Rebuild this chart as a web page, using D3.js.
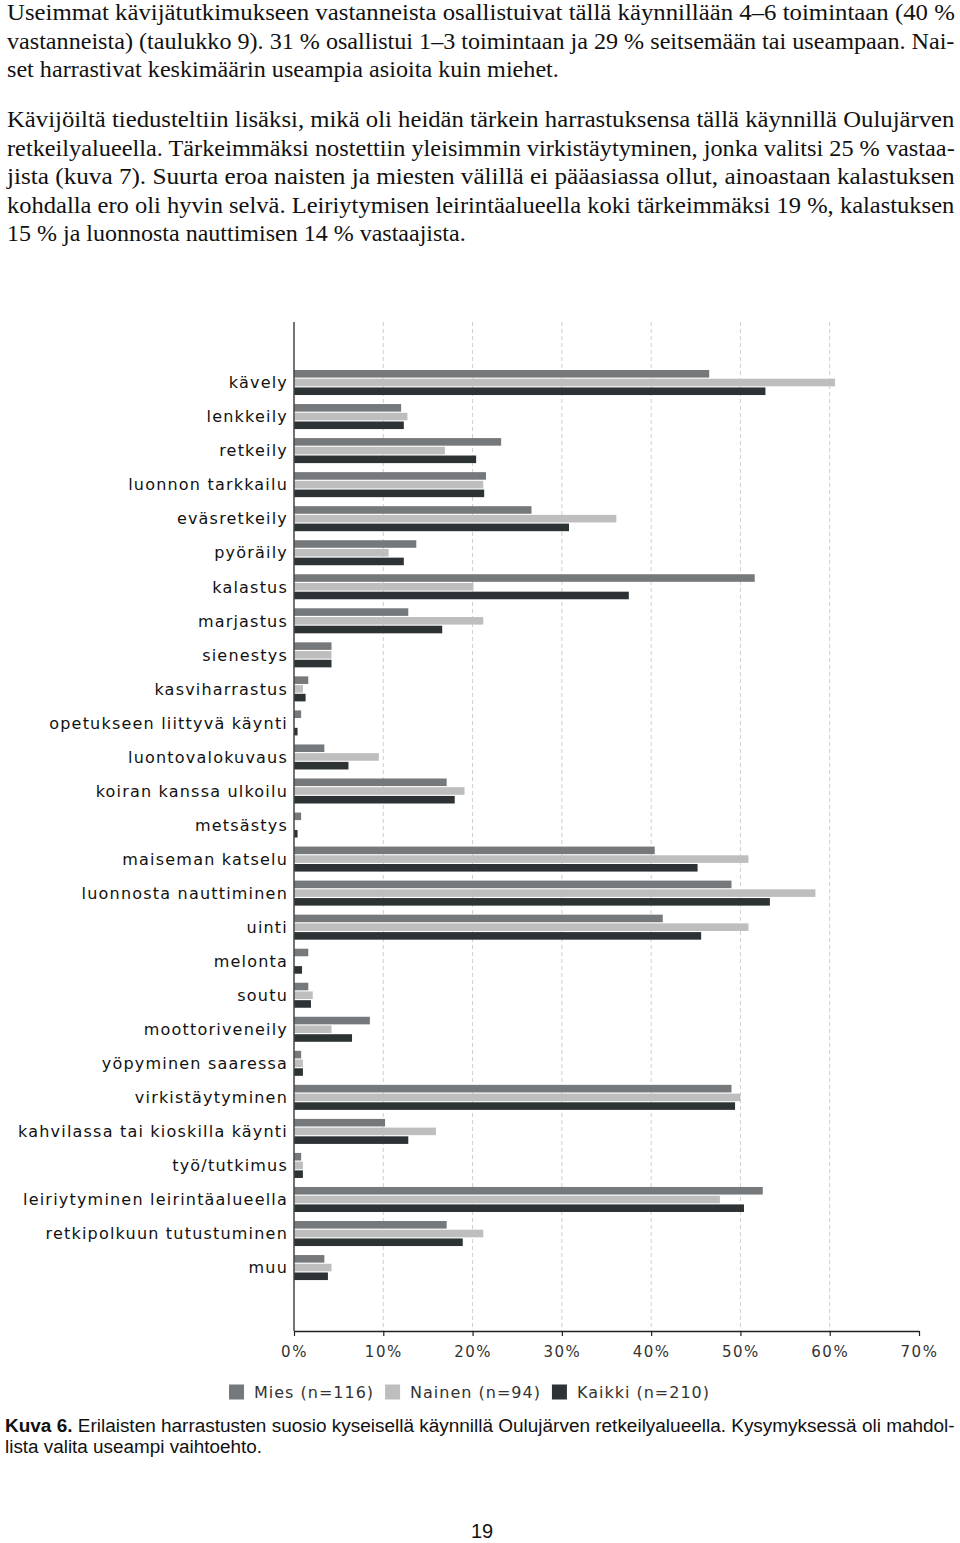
<!DOCTYPE html>
<html>
<head>
<meta charset="utf-8">
<script src="https://cdn.jsdelivr.net/npm/d3@7"></script>
<style>
  html, body { margin: 0; padding: 0; background: #fff; }
  svg { display: block; }
</style>
</head>
<body>
<svg id="chart" width="960" height="1543"></svg>
<script>
// ---------------- DATA ----------------
const categories = [
  "kävely", "lenkkeily", "retkeily", "luonnon tarkkailu", "eväsretkeily",
  "pyöräily", "kalastus", "marjastus", "sienestys", "kasviharrastus",
  "opetukseen liittyvä käynti", "luontovalokuvaus", "koiran kanssa ulkoilu",
  "metsästys", "maiseman katselu", "luonnosta nauttiminen", "uinti", "melonta",
  "soutu", "moottoriveneily", "yöpyminen saaressa", "virkistäytyminen",
  "kahvilassa tai kioskilla käynti", "työ/tutkimus",
  "leiriytyminen leirintäalueella", "retkipolkuun tutustuminen", "muu"
];
const mies   = [46.5, 12.0, 23.2, 21.5, 26.6, 13.7, 51.6, 12.8, 4.2, 1.6, 0.8, 3.4, 17.1, 0.8, 40.4, 49.0, 41.3, 1.6, 1.6, 8.5, 0.8, 49.0, 10.2, 0.8, 52.5, 17.1, 3.4];
const nainen = [60.6, 12.7, 16.9, 21.2, 36.1, 10.6, 20.1, 21.2, 4.2, 1.0, 0.0, 9.5, 19.1, 0.0, 50.9, 58.4, 50.9, 0.0, 2.1, 4.2, 1.0, 50.0, 15.9, 1.0, 47.7, 21.2, 4.2];
const kaikki = [52.8, 12.3, 20.4, 21.3, 30.8, 12.3, 37.5, 16.6, 4.2, 1.3, 0.4, 6.1, 18.0, 0.4, 45.2, 53.3, 45.6, 0.9, 1.9, 6.5, 1.0, 49.4, 12.8, 1.0, 50.4, 18.9, 3.8];
const seriesNames = ["Mies (n=116)", "Nainen (n=94)", "Kaikki (n=210)"];
const xTicks = [0, 10, 20, 30, 40, 50, 60, 70];
const gridTicks = [10, 20, 30, 40, 50, 60];

const paragraph1 = [
  "Useimmat kävijätutkimukseen vastanneista osallistuivat tällä käynnillään 4–6 toimintaan (40 %",
  "vastanneista) (taulukko 9). 31 % osallistui 1–3 toimintaan ja 29 % seitsemään tai useampaan. Nai-",
  "set harrastivat keskimäärin useampia asioita kuin miehet."
];
const paragraph2 = [
  "Kävijöiltä tiedusteltiin lisäksi, mikä oli heidän tärkein harrastuksensa tällä käynnillä Oulujärven",
  "retkeilyalueella. Tärkeimmäksi nostettiin yleisimmin virkistäytyminen, jonka valitsi 25 % vastaa-",
  "jista (kuva 7). Suurta eroa naisten ja miesten välillä ei pääasiassa ollut, ainoastaan kalastuksen",
  "kohdalla ero oli hyvin selvä. Leiriytymisen leirintäalueella koki tärkeimmäksi 19 %, kalastuksen",
  "15 % ja luonnosta nauttimisen 14 % vastaajista."
];
const captionBold = "Kuva 6.";
const captionLines = [
  " Erilaisten harrastusten suosio kyseisellä käynnillä Oulujärven retkeilyalueella. Kysymyksessä oli mahdol-",
  "lista valita useampi vaihtoehto."
];
const pageNumber = "19";

// ---------------- STYLE / LAYOUT ----------------
const colors = ["#76797c", "#bebebe", "#2d3335"];
const svg = d3.select("#chart");
svg.append("rect").attr("width", 960).attr("height", 1543).attr("fill", "#fff");

// prose helper: draw a line and stretch/condense it to a target width
function proseLine(parts, x0, baseline, targetW, family, size) {
  const g = svg.append("g").attr("transform", `translate(${x0},${baseline})`);
  const t = g.append("text")
    .attr("x", 0).attr("y", 0)
    .attr("font-family", family)
    .attr("font-size", size)
    .attr("fill", "#111");
  parts.forEach(p => {
    t.append("tspan").attr("font-weight", p.bold ? "bold" : "normal").text(p.text);
  });
  if (targetW) {
    const w = t.node().getComputedTextLength();
    g.attr("transform", `translate(${x0},${baseline}) scale(${targetW / w},1)`);
  }
}

const serif = "'Liberation Serif', 'Times New Roman', serif";
const p1Base = [20, 49, 77];
const p1W = [948, 948, 552];
paragraph1.forEach((s, i) => proseLine([{ text: s }], 7, p1Base[i], p1W[i], serif, 23));
const p2Base = [127, 156, 184, 213, 241];
const p2W = [948, 948, 948, 948, 459];
paragraph2.forEach((s, i) => proseLine([{ text: s }], 7, p2Base[i], p2W[i], serif, 23));

// ---------------- CHART ----------------
const x = d3.scaleLinear().domain([0, 70]).range([294, 919]);
const plotTop = 322, plotBottom = 1331;

const y = d3.scaleBand()
  .domain(categories)
  .range([365.5, 365.5 + 27 * 34.04])
  .paddingInner(0.265)
  .paddingOuter(0.1325);

const yInner = d3.scaleBand()
  .domain(seriesNames)
  .range([0, y.bandwidth()])
  .paddingInner(0.13);

// gridlines
svg.append("g").selectAll("line")
  .data(gridTicks)
  .join("line")
  .attr("x1", d => x(d)).attr("x2", d => x(d))
  .attr("y1", plotTop).attr("y2", plotBottom)
  .attr("stroke", "#cfcfcf")
  .attr("stroke-width", 1)
  .attr("stroke-dasharray", "4,3");

// bars
const seriesData = [mies, nainen, kaikki];
seriesData.forEach((vals, si) => {
  svg.append("g").selectAll("rect")
    .data(categories.map((c, i) => ({ c, v: vals[i] })))
    .join("rect")
    .attr("x", x(0))
    .attr("y", d => y(d.c) + yInner(seriesNames[si]))
    .attr("width", d => Math.max(0, x(d.v) - x(0)))
    .attr("height", yInner.bandwidth())
    .attr("fill", colors[si]);
});

// y axis line + labels
svg.append("line")
  .attr("x1", x(0)).attr("x2", x(0))
  .attr("y1", plotTop).attr("y2", plotBottom)
  .attr("stroke", "#444").attr("stroke-width", 1.5);

svg.append("g").selectAll("text")
  .data(categories)
  .join("text")
  .attr("x", x(0) - 6)
  .attr("y", d => y(d) + y.bandwidth() / 2)
  .attr("dy", "0.36em")
  .attr("text-anchor", "end")
  .attr("font-family", "'DejaVu Sans', sans-serif")
  .attr("font-size", 16)
  .attr("letter-spacing", "1.2px")
  .attr("fill", "#111")
  .text(d => d);

// x axis
const xAxis = d3.axisBottom(x)
  .tickValues(xTicks)
  .tickFormat(d => d + "%")
  .tickSize(5)
  .tickSizeOuter(0);
const gx = svg.append("g")
  .attr("transform", `translate(0,${plotBottom})`)
  .call(xAxis);
gx.select(".domain").attr("stroke", "#222").attr("stroke-width", 1.5);
gx.selectAll(".tick line").attr("stroke", "#222").attr("stroke-width", 1.2);
gx.selectAll(".tick text")
  .attr("y", 15)
  .attr("dy", "0.71em")
  .attr("font-family", "'DejaVu Sans', sans-serif")
  .attr("font-size", 15)
  .attr("letter-spacing", "1.5px")
  .attr("fill", "#333");

// legend
const legend = svg.append("g").attr("transform", "translate(229,1392)");
let lx = 0;
seriesNames.forEach((name, i) => {
  legend.append("rect")
    .attr("x", lx).attr("y", -7.5)
    .attr("width", 15).attr("height", 15)
    .attr("fill", colors[i]);
  const t = legend.append("text")
    .attr("x", lx + 25).attr("y", 0).attr("dy", "0.36em")
    .attr("font-family", "'DejaVu Sans', sans-serif")
    .attr("font-size", 16)
    .attr("letter-spacing", "1px")
    .attr("fill", "#333")
    .text(name);
  lx = lx + 25 + t.node().getComputedTextLength() + 11;
});

// caption
const sans = "'Liberation Sans', Arial, sans-serif";
proseLine([{ text: captionBold, bold: true }, { text: captionLines[0] }], 5, 1432, 950, sans, 18);
proseLine([{ text: captionLines[1] }], 5, 1453, 257, sans, 18);

// page number
svg.append("text")
  .attr("x", 482).attr("y", 1538)
  .attr("text-anchor", "middle")
  .attr("font-family", sans)
  .attr("font-size", 20)
  .attr("fill", "#111")
  .text(pageNumber);
</script>
</body>
</html>
